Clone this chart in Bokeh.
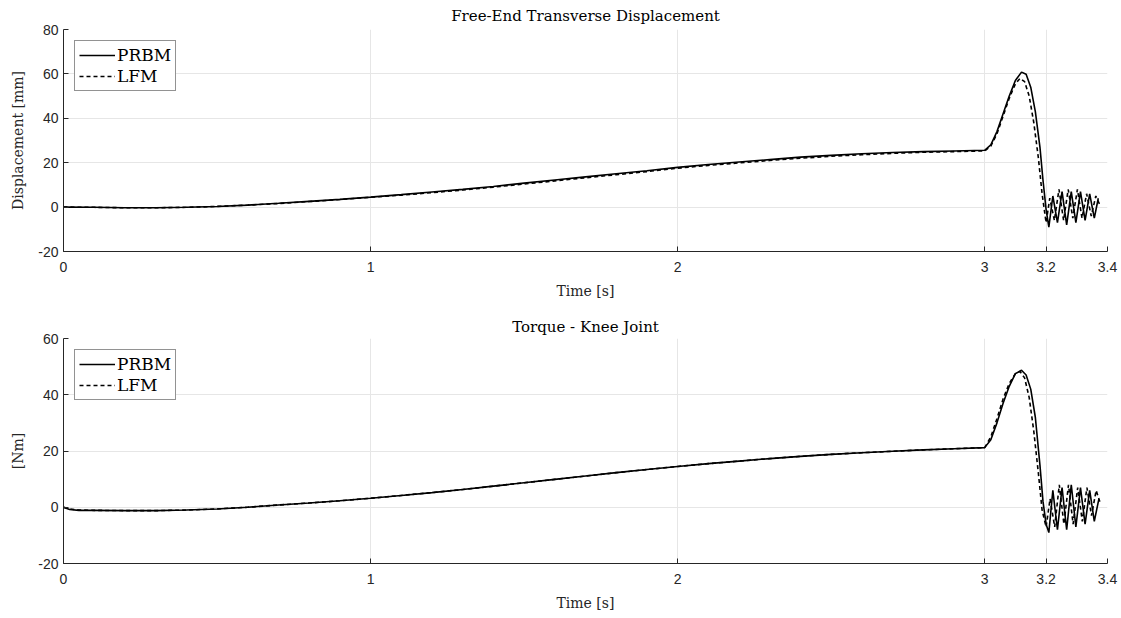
from bokeh.plotting import figure
from bokeh.layouts import column
from bokeh.models import Range1d, FixedTicker, Legend, LegendItem
from bokeh.embed import file_html
from bokeh.resources import INLINE

# ---------------- data ----------------
x_ticks = [0, 1, 2, 3, 3.2, 3.4]
x_tick_labels = ["0", "1", "2", "3", "3.2", "3.4"]
disp_ticks = [-20, 0, 20, 40, 60, 80]
torq_ticks = [-20, 0, 20, 40, 60]

# Free-End Transverse Displacement [mm]
t_disp_prbm = [0, 0.1, 0.2, 0.3, 0.4, 0.5, 0.6, 0.7, 0.8, 0.9, 1.0, 1.1, 1.2, 1.3, 1.4, 1.5,
               1.6, 1.7, 1.8, 1.9, 2.0, 2.1, 2.2, 2.3, 2.4, 2.5, 2.6, 2.7, 2.8, 2.9, 3.0,
               3.02, 3.04, 3.06, 3.08, 3.10, 3.12, 3.135, 3.15, 3.165, 3.18, 3.19, 3.2, 3.209,
               3.222, 3.237, 3.252, 3.267, 3.282, 3.297, 3.312, 3.327, 3.342, 3.357, 3.37]
disp_prbm = [0, -0.1, -0.3, -0.3, -0.1, 0.3, 0.9, 1.7, 2.6, 3.5, 4.5, 5.6, 6.8, 8.0, 9.3, 10.8,
             12.2, 13.6, 15.0, 16.4, 17.9, 19.2, 20.3, 21.4, 22.5, 23.3, 24.0, 24.6, 25.0, 25.3, 25.6,
             28, 34, 42, 50, 57, 60.8, 59.8, 54, 43, 27, 12, -1, -9,
             5, -7, 7, -8, 7, -7, 7, -6, 6, -5, 4]

t_disp_lfm = [0, 0.1, 0.2, 0.3, 0.4, 0.5, 0.6, 0.7, 0.8, 0.9, 1.0, 1.1, 1.2, 1.3, 1.4, 1.5,
              1.6, 1.7, 1.8, 1.9, 2.0, 2.1, 2.2, 2.3, 2.4, 2.5, 2.6, 2.7, 2.8, 2.9, 3.0,
              3.02, 3.04, 3.06, 3.08, 3.10, 3.115, 3.13, 3.145, 3.16, 3.175, 3.187, 3.2,
              3.212, 3.227, 3.242, 3.257, 3.272, 3.287, 3.302, 3.317, 3.332, 3.347, 3.362, 3.375]
disp_lfm = [0, -0.1, -0.3, -0.3, -0.1, 0.3, 0.9, 1.6, 2.5, 3.4, 4.4, 5.4, 6.5, 7.7, 9.0, 10.4,
            11.8, 13.2, 14.6, 16.0, 17.5, 18.8, 19.9, 21.0, 22.0, 22.9, 23.6, 24.2, 24.7, 25.0, 25.3,
            27.5, 33, 41, 49, 55.5, 58, 56.5, 50, 38, 22, 6, -7,
            4, -6, 8, -6, 8, -5, 8, -5, 6, -4, 5, 1]

# Torque - Knee Joint [Nm]
t_torq_prbm = [0, 0.02, 0.05, 0.1, 0.2, 0.3, 0.4, 0.5, 0.6, 0.7, 0.8, 0.9, 1.0, 1.1, 1.2, 1.3,
               1.4, 1.5, 1.6, 1.7, 1.8, 1.9, 2.0, 2.1, 2.2, 2.3, 2.4, 2.5, 2.6, 2.7, 2.8, 2.9, 3.0,
               3.02, 3.04, 3.06, 3.08, 3.10, 3.12, 3.135, 3.15, 3.165, 3.18, 3.19, 3.2, 3.209,
               3.222, 3.237, 3.252, 3.267, 3.282, 3.297, 3.312, 3.327, 3.342, 3.357, 3.372]
torq_prbm = [0, -0.8, -1.1, -1.1, -1.2, -1.2, -1.0, -0.6, 0.0, 0.8, 1.5, 2.3, 3.2, 4.2, 5.2, 6.3,
             7.5, 8.7, 9.9, 11.1, 12.3, 13.4, 14.5, 15.5, 16.4, 17.3, 18.1, 18.8, 19.4, 19.9, 20.4, 20.8, 21.2,
             24, 30, 37, 43, 47.5, 48.7, 47, 42, 32, 15, 2, -6, -9,
             6, -8, 7, -8, 8, -7, 7, -6, 6, -5, 3]

t_torq_lfm = [0, 0.02, 0.05, 0.1, 0.2, 0.3, 0.4, 0.5, 0.6, 0.7, 0.8, 0.9, 1.0, 1.1, 1.2, 1.3,
              1.4, 1.5, 1.6, 1.7, 1.8, 1.9, 2.0, 2.1, 2.2, 2.3, 2.4, 2.5, 2.6, 2.7, 2.8, 2.9, 3.0,
              3.02, 3.04, 3.06, 3.08, 3.10, 3.115, 3.13, 3.145, 3.16, 3.175, 3.187, 3.2,
              3.213, 3.228, 3.243, 3.258, 3.273, 3.288, 3.303, 3.318, 3.333, 3.348, 3.363, 3.375]
torq_lfm = [0, -0.6, -1.0, -1.1, -1.2, -1.2, -1.0, -0.6, 0.0, 0.8, 1.5, 2.3, 3.2, 4.2, 5.2, 6.3,
            7.5, 8.7, 9.9, 11.1, 12.3, 13.4, 14.5, 15.5, 16.4, 17.3, 18.1, 18.8, 19.4, 19.9, 20.4, 20.8, 21.2,
            25, 31.5, 38.5, 44, 47.5, 48.3, 46, 39, 27, 12, -1, -7,
            3, -7, 8, -6, 8, -6, 7, -5, 7, -3, 6, 2]

SERIF = "DejaVu Serif"
SANS = "Liberation Sans"
AX = "#262626"


def make_fig(title, ylabel, yr, yticks, h, top, bottom, title_standoff):
    p = figure(width=1118, height=h, output_backend="svg", toolbar_location=None,
               x_range=Range1d(0, 3.4), y_range=Range1d(*yr),
               min_border_left=63, min_border_right=11, min_border_top=top, min_border_bottom=bottom)
    p.title.text = title
    p.title.text_font = SERIF
    p.title.text_font_size = "15px"
    p.title.text_font_style = "normal"
    p.title.align = "center"
    p.title.text_color = "#000000"
    p.title.standoff = title_standoff
    p.outline_line_color = None
    p.background_fill_color = "white"
    p.border_fill_color = "white"
    p.xaxis.ticker = FixedTicker(ticks=x_ticks)
    p.yaxis.ticker = FixedTicker(ticks=yticks)
    p.xaxis.major_label_overrides = dict(zip(x_ticks, x_tick_labels))
    p.yaxis.major_label_overrides = {v: str(v) for v in yticks}
    for ax in (p.xaxis, p.yaxis):
        ax.axis_line_color = AX
        ax.axis_line_width = 1
        ax.major_tick_line_color = AX
        ax.major_tick_in = 5
        ax.major_tick_out = 0
        ax.minor_tick_line_color = None
        ax.major_label_text_font = SANS
        ax.major_label_text_font_size = "14px"
        ax.major_label_text_color = AX
        ax.axis_label_text_font = SERIF
        ax.axis_label_text_font_size = "14px"
        ax.axis_label_text_font_style = "normal"
        ax.axis_label_text_color = AX
    p.xaxis.axis_label = "Time [s]"
    p.yaxis.axis_label = ylabel
    p.xaxis.major_label_standoff = 10
    p.yaxis.major_label_standoff = 5
    p.xaxis.axis_label_standoff = 8
    p.yaxis.axis_label_standoff = 9
    for g in (p.xgrid, p.ygrid):
        g.grid_line_color = "#e6e6e6"
        g.grid_line_width = 1
    return p


def add_lines(p, t1, y1, t2, y2):
    r1 = p.line(t1, y1, line_color="black", line_width=1.6)
    r2 = p.line(t2, y2, line_color="black", line_width=1.6, line_dash="4 3")
    leg = Legend(items=[LegendItem(label="PRBM", renderers=[r1]),
                        LegendItem(label="LFM", renderers=[r2])],
                 location="top_left")
    leg.label_text_font = SERIF
    leg.label_text_font_size = "17px"
    leg.label_text_color = "#000000"
    leg.border_line_color = AX
    leg.border_line_width = 1
    leg.background_fill_color = "white"
    leg.background_fill_alpha = 1
    leg.glyph_width = 36
    leg.glyph_height = 20
    leg.label_height = 20
    leg.label_standoff = 2
    leg.spacing = 1
    leg.padding = 4
    leg.margin = 11
    p.add_layout(leg)


p1 = make_fig("Free-End Transverse Displacement", "Displacement [mm]", (-20, 80),
              disp_ticks, 301, 29, 50, 9)
add_lines(p1, t_disp_prbm, disp_prbm, t_disp_lfm, disp_lfm)

p2 = make_fig("Torque - Knee Joint", "[Nm]", (-20, 60),
              torq_ticks, 312, 37, 50, 6)
add_lines(p2, t_torq_prbm, torq_prbm, t_torq_lfm, torq_lfm)

layout = column(p1, p2, spacing=0)
open("out.html", "w").write(file_html(layout, INLINE))
